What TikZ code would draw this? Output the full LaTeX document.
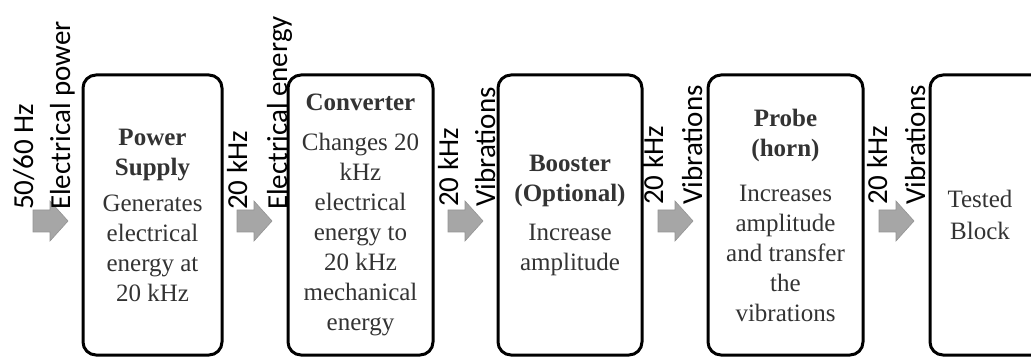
\documentclass[tikz,border=0pt]{standalone}
\usepackage{fontspec}
\setmainfont{Liberation Serif}
\newfontfamily\lblfont{Carlito}
\newcommand\grayarrow[2]{%
  \draw[garrow] (#1,#2-11) -- (#1+17,#2-11) -- (#1+17,#2-20) -- (#1+35,#2)
    -- (#1+17,#2+20) -- (#1+17,#2+11) -- (#1,#2+11) -- cycle;}
\begin{document}
\begin{tikzpicture}[x=1pt,y=-1pt,
  blk/.style={draw=black, line width=3pt, rounded corners=13pt, fill=white,
    inner sep=0pt, align=center, minimum height=280pt,
    font=\fontsize{25}{30}\selectfont, text=black!80},
  lbl/.style={font=\lblfont\fontsize{29}{35}\selectfont, rotate=90,
    anchor=base west, inner sep=0pt},
  garrow/.style={fill=black!35, draw=black!42, line width=0.6pt, line join=miter}]
\useasboundingbox (0,0) rectangle (1031,358);
% boxes
\node[blk, minimum width=139pt] (ps) at (152.5,215)
  {\textbf{Power}\\\textbf{Supply}\\[6pt]Generates\\electrical\\energy at\\20 kHz};
\node[blk, minimum width=145pt] (cv) at (360.5,215)
  {\textbf{Converter}\\[10pt]Changes 20\\kHz\\electrical\\energy to\\20 kHz\\mechanical\\energy};
\node[blk, minimum width=144pt] (bo) at (570,215)
  {\textbf{Booster}\\\textbf{(Optional)}\\[9pt]Increase\\amplitude};
\node[blk, minimum width=155pt] (pr) at (785.5,215)
  {\textbf{Probe}\\\textbf{(horn)}\\[15pt]Increases\\amplitude\\and transfer\\the\\vibrations};
\node[blk, minimum width=140pt] (tb) at (1000,215) {};
\node[font=\fontsize{25}{32}\selectfont, text=black!80, align=center, inner sep=0pt]
  (tbt) at (980,215) {Tested\\Block};
% arrows
\grayarrow{33}{221}
\grayarrow{237}{221}
\grayarrow{448}{221}
\grayarrow{658}{221}
\grayarrow{879}{221}
% labels
\node[lbl] (l1a) at (33,210) {50/60 Hz};
\node[lbl] (l1b) at (70,210) {Electrical power};
\node[lbl] (l2a) at (247,210) {20 kHz};
\node[lbl] (l2b) at (287,210) {Electrical energy};
\node[lbl] (l3a) at (458,207) {20 kHz};
\node[lbl] (l3b) at (495,207) {Vibrations};
\node[lbl] (l4a) at (663,205) {20 kHz};
\node[lbl] (l4b) at (702,205) {Vibrations};
\node[lbl] (l5a) at (887,205) {20 kHz};
\node[lbl] (l5b) at (925,205) {Vibrations};
\end{tikzpicture}
\end{document}
